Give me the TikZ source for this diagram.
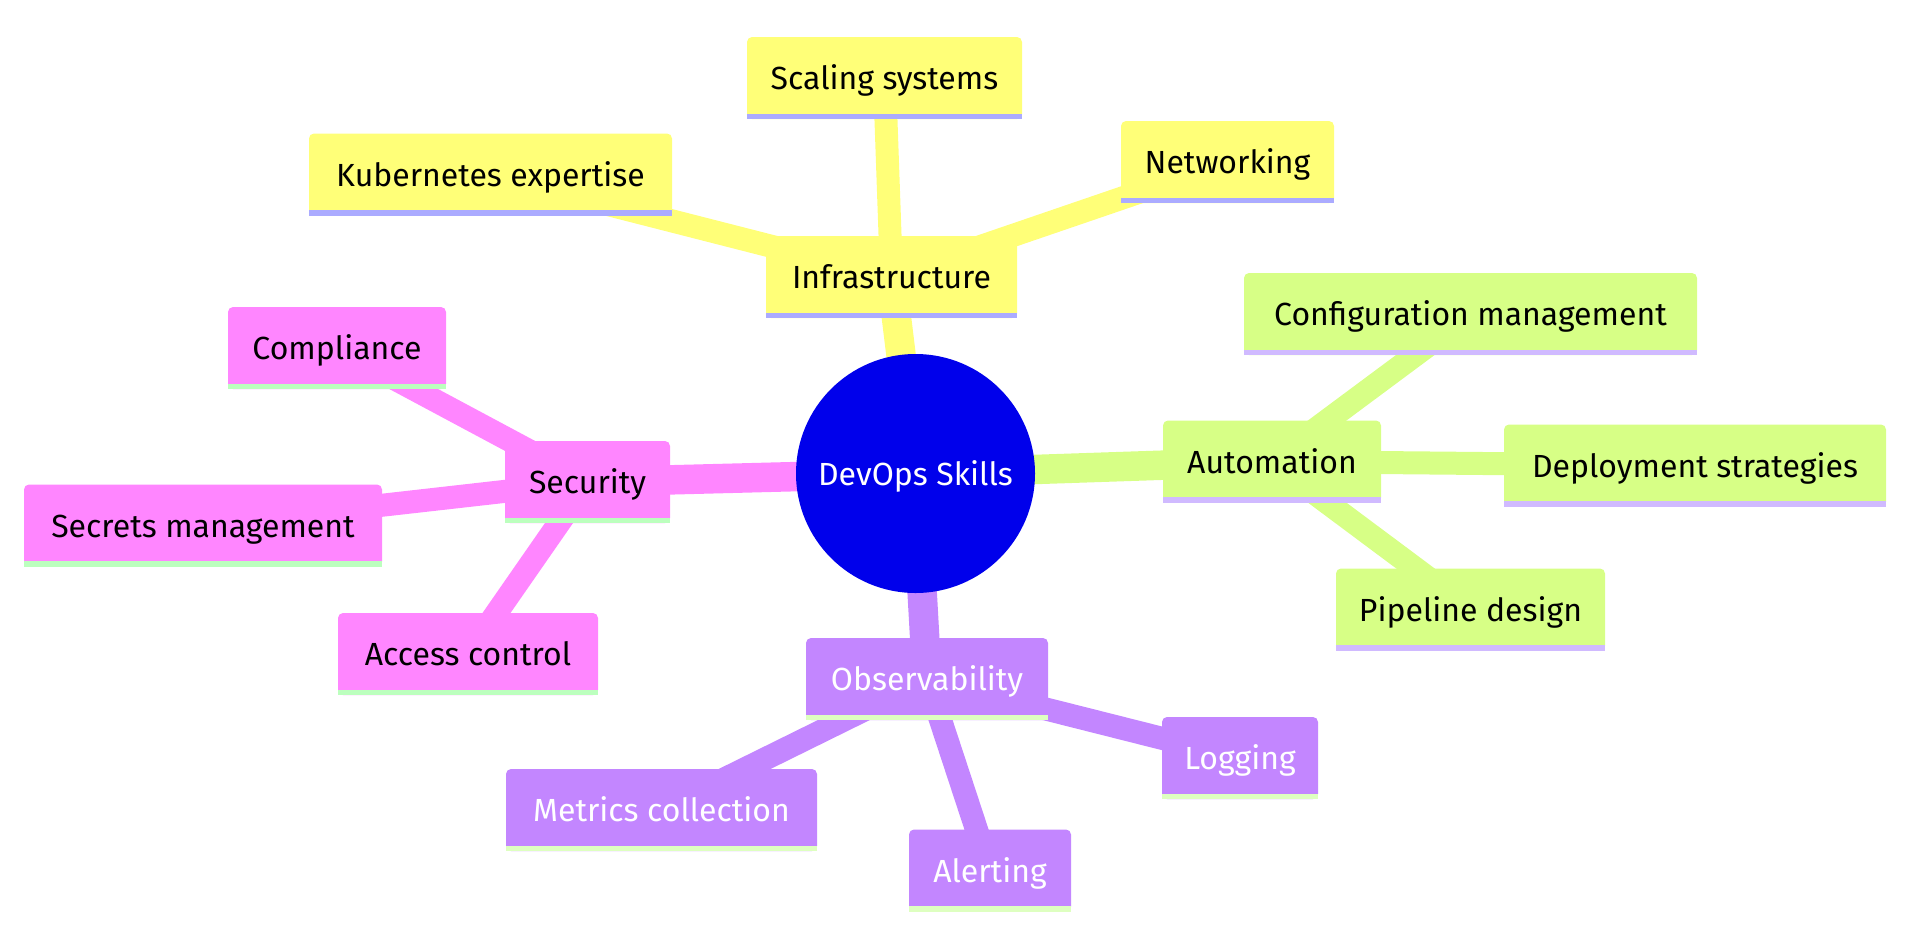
\documentclass[tikz,border=0pt]{standalone}
\usepackage{fontspec}
\setmainfont{Fira Sans}
\usetikzlibrary{backgrounds}

\definecolor{rootblue}{RGB}{0,0,235}
\definecolor{infrafill}{RGB}{255,255,120}
\definecolor{infrabar}{RGB}{171,171,255}
\definecolor{autofill}{RGB}{215,255,134}
\definecolor{autobar}{RGB}{208,186,255}
\definecolor{obsfill}{RGB}{195,134,255}
\definecolor{obsbar}{RGB}{222,255,192}
\definecolor{secfill}{RGB}{255,134,255}
\definecolor{secbar}{RGB}{188,255,190}

\begin{document}
\begin{tikzpicture}[x=1pt,y=-1pt,
  topic/.style={rectangle, rounded corners=5pt, fill=#1, inner sep=0pt,
    minimum height=82pt, text height=23pt, text depth=0pt,
    font=\fontsize{32}{40}\selectfont},
  infra/.style={topic=infrafill},
  auto/.style={topic=autofill},
  obs/.style={topic=obsfill, text=white},
  sec/.style={topic=secfill},
  trunk/.style={line width=29.5pt},
  twig/.style={line width=23pt}]

\useasboundingbox (0,0) rectangle (1907,930);

% root
\node[circle, fill=rootblue, text=white, minimum size=239pt, inner sep=0pt,
  text height=23pt, text depth=0pt, font=\fontsize{32}{40}\selectfont]
  (root) at (915.5,473.5) {DevOps Skills};

% Infrastructure
\node[infra, minimum width=251pt] (infrastructure) at (891.5,277) {Infrastructure};
\node[infra, minimum width=275pt] (scaling) at (884.5,78) {Scaling systems};
\node[infra, minimum width=363pt] (kubernetes) at (490.5,174.5) {Kubernetes expertise};
\node[infra, minimum width=213pt] (networking) at (1227.5,162) {Networking};

% Automation
\node[auto, minimum width=218pt] (automation) at (1272,461.5) {Automation};
\node[auto, minimum width=453pt] (configuration) at (1470.5,314) {Configuration management};
\node[auto, minimum width=382pt] (deployment) at (1695,465.5) {Deployment strategies};
\node[auto, minimum width=269pt] (pipeline) at (1470.5,609.5) {Pipeline design};

% Observability
\node[obs, minimum width=242pt] (observability) at (927,679) {Observability};
\node[obs, minimum width=311pt] (metrics) at (661.5,810) {Metrics collection};
\node[obs, minimum width=162pt] (alerting) at (990,870.5) {Alerting};
\node[obs, minimum width=156pt] (logging) at (1240,758) {Logging};

% Security
\node[sec, minimum width=165pt] (security) at (587.5,482) {Security};
\node[sec, minimum width=218pt] (compliance) at (337,348) {Compliance};
\node[sec, minimum width=358pt] (secrets) at (203,525.5) {Secrets management};
\node[sec, minimum width=260pt] (access) at (468,654) {Access control};

% bars under the boxes
\foreach \n/\c in {infrastructure/infrabar,scaling/infrabar,kubernetes/infrabar,networking/infrabar,
    automation/autobar,configuration/autobar,deployment/autobar,pipeline/autobar,
    observability/obsbar,metrics/obsbar,alerting/obsbar,logging/obsbar,
    security/secbar,compliance/secbar,secrets/secbar,access/secbar}
  \fill[\c] (\n.south west) rectangle ([yshift=5.5pt]\n.south east);

% branches
\begin{scope}[on background layer]
\draw[trunk, infrafill] (root.center) -- (infrastructure.center);
\draw[trunk, autofill] (root.center) -- (automation.center);
\draw[trunk, obsfill] (root.center) -- (observability.center);
\draw[trunk, secfill] (root.center) -- (security.center);

\foreach \leaf in {scaling,kubernetes,networking}
  \draw[twig, infrafill] (infrastructure.center) -- (\leaf.center);
\foreach \leaf in {configuration,deployment,pipeline}
  \draw[twig, autofill] (automation.center) -- (\leaf.center);
\foreach \leaf in {metrics,alerting,logging}
  \draw[twig, obsfill] (observability.center) -- (\leaf.center);
\foreach \leaf in {compliance,secrets,access}
  \draw[twig, secfill] (security.center) -- (\leaf.center);
\end{scope}
\end{tikzpicture}
\end{document}
